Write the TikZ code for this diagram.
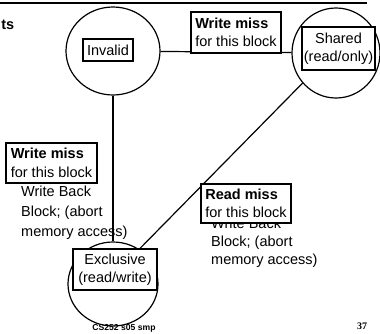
\documentclass[tikz,border=0pt]{standalone}
\usepackage{fontspec}
\setmainfont{Liberation Sans}
\newfontfamily\serifnum{Liberation Serif}
\usetikzlibrary{shapes.geometric}
\begin{document}
\begin{tikzpicture}[x=1pt,y=-1pt,
  state/.style={draw, ellipse, line width=1.2pt, inner sep=0pt},
  conn/.style={draw, line width=1.2pt},
  labelbox/.style={draw, fill=white, line width=1.7pt, inner sep=1.5pt,
    font=\fontsize{14.5}{18.5}\selectfont},
  plaintext/.style={inner sep=0pt, align=left, font=\fontsize{14.5}{20}\selectfont},
]
\useasboundingbox (0,0) rectangle (380,333);
% top rule
\coordinate (r1) at (0,3);
\coordinate (r2) at (367,3);
\draw[line width=1.8pt] (r1) -- (r2);
\node[anchor=base east, inner sep=0pt, font=\bfseries\fontsize{14.5}{17}\selectfont] (ts) at (14.5,29) {ts};

% states
\node[state, minimum width=94pt, minimum height=88pt] (inv) at (113,51) {};
\node[state, minimum width=88pt, minimum height=90pt] (sh) at (336,53) {};
\node[state, minimum width=90pt, minimum height=84pt] (ex) at (113,284) {};

% connectors
\draw[conn] (inv) -- (sh);
\draw[conn] (inv) -- (ex);
\draw[conn] (sh.222) -- (ex.53);

% plain texts
\node[plaintext, anchor=north west] (wb1) at (21,186) {Write Back\\Block; (abort\\memory access)};
\node[plaintext, font=\fontsize{14.5}{18}\selectfont, anchor=north west] (wb2) at (211,218) {Write Back\\Block; (abort\\memory access)};

% label boxes
\node[labelbox, align=center, minimum width=50pt, minimum height=22pt] (invl) at (108,50) {Invalid};
\node[labelbox, align=center, minimum width=73pt, minimum height=43pt] (shl) at (338.5,48.5) {Shared\\(read/only)};
\node[labelbox, align=center, minimum width=84pt, minimum height=41pt] (exl) at (115,269.5) {Exclusive\\(read/write)};
\node[labelbox, align=left, minimum width=90pt, minimum height=41pt] (wm1) at (236,32.5) {\textbf{Write miss}\\for this block};
\node[labelbox, align=left, minimum width=91pt, minimum height=40pt] (wm2) at (51.5,163) {\textbf{Write miss}\\for this block};
\node[labelbox, align=left, minimum width=90pt, minimum height=39pt] (rm) at (246,203.5) {\textbf{Read miss}\\for this block};

% footer
\node[inner sep=0pt, font=\bfseries\fontsize{8.6}{10}\selectfont] (ft) at (124,328) {CS252 s05 smp};
\node[inner sep=0pt, font=\serifnum\bfseries\fontsize{10}{12}\selectfont] (pg) at (362,326) {37};
\end{tikzpicture}
\end{document}
